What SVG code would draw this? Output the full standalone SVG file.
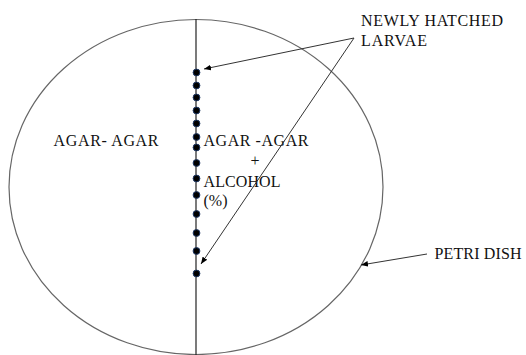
<svg xmlns="http://www.w3.org/2000/svg" width="526" height="355" viewBox="0 0 526 355">
<defs>
<marker id="ah" viewBox="0 0 10 10" refX="10" refY="5" markerWidth="7" markerHeight="7" orient="auto" markerUnits="userSpaceOnUse">
<path d="M0,1 L10,5 L0,9 Z" fill="#000"/>
</marker>
</defs>
<style>
.t{font-family:'Liberation Serif','DejaVu Serif','Times New Roman',serif;font-size:16px;fill:#111}
.dot{fill:#000;stroke:#1f3864;stroke-width:1}
.conn{stroke:#333;stroke-width:1;fill:none;marker-end:url(#ah)}
</style>
<rect width="526" height="355" fill="#fff"/>
<g id="dish">
<ellipse cx="196" cy="187" rx="187" ry="167.5" fill="none" stroke="#666" stroke-width="1.2"/>
<line x1="196" y1="19" x2="196" y2="355" stroke="#222" stroke-width="1.2"/>
</g>
<g id="larvae">
<circle class="dot" cx="196.5" cy="72.5" r="3.4"/>
<circle class="dot" cx="196.5" cy="85.5" r="3.4"/>
<circle class="dot" cx="196.5" cy="97.5" r="3.4"/>
<circle class="dot" cx="196.5" cy="110.5" r="3.4"/>
<circle class="dot" cx="196.5" cy="123.5" r="3.4"/>
<circle class="dot" cx="196.5" cy="137" r="3.4"/>
<circle class="dot" cx="196.5" cy="147.5" r="3.4"/>
<circle class="dot" cx="196.5" cy="163" r="3.4"/>
<circle class="dot" cx="196.5" cy="178.5" r="3.4"/>
<circle class="dot" cx="196.5" cy="195" r="3.4"/>
<circle class="dot" cx="196.5" cy="214" r="3.4"/>
<circle class="dot" cx="196.5" cy="233" r="3.4"/>
<circle class="dot" cx="196.5" cy="251" r="3.4"/>
<circle class="dot" cx="196.5" cy="273.5" r="3.4"/>
</g>
<g id="label-left">
<text class="t" x="53.5" y="146" textLength="105">AGAR- AGAR</text>
</g>
<g id="label-right">
<text class="t" x="203.5" y="146" textLength="105">AGAR -AGAR</text>
<text class="t" x="255" y="166" text-anchor="middle">+</text>
<text class="t" x="203.5" y="187" textLength="77">ALCOHOL</text>
<text class="t" x="203.5" y="206">(%)</text>
</g>
<g id="label-larvae">
<text class="t" x="361" y="26" textLength="142">NEWLY HATCHED</text>
<text class="t" x="361" y="46" textLength="66">LARVAE</text>
</g>
<g id="label-dish">
<text class="t" x="434.5" y="259" textLength="87">PETRI DISH</text>
</g>
<g id="connectors">
<line class="conn" x1="354" y1="38" x2="204" y2="69"/>
<line class="conn" x1="354" y1="38" x2="201" y2="264"/>
<line class="conn" x1="427" y1="254" x2="361" y2="265"/>
</g>
</svg>
